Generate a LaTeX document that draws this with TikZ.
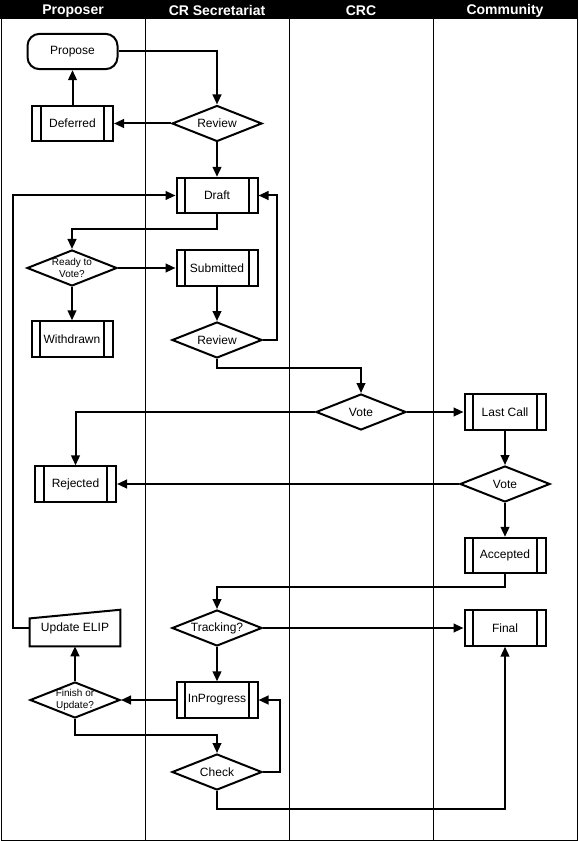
\documentclass[tikz,border=0pt]{standalone}
\usepackage{fontspec}
\setmainfont{Liberation Sans}
\usepackage{tikz}
\usetikzlibrary{arrows.meta, positioning, shapes.geometric, calc}

\begin{document}
\begin{tikzpicture}[
    x=0.75pt, y=-0.75pt,
    font=\fontsize{9}{10}\selectfont,
    lane/.style={line width=0.6pt},
    header/.style={text=white, font=\fontsize{10.5}{12}\selectfont\bfseries},
    block/.style={draw, line width=1.5pt, minimum width=60.75pt, minimum height=26.5pt, inner sep=1pt, align=center},
    process/.style={block, path picture={
        \draw[line width=1.5pt] ([xshift=6.5pt]path picture bounding box.north west) -- ([xshift=6.5pt]path picture bounding box.south west);
        \draw[line width=1.5pt] ([xshift=-6.5pt]path picture bounding box.north east) -- ([xshift=-6.5pt]path picture bounding box.south east);}},
    start/.style={block, rounded corners=9pt, minimum width=67.5pt},
    decision/.style={draw, line width=1.5pt, diamond, aspect=2.5, inner sep=0pt, minimum width=67.5pt, minimum height=27pt, align=center},
    small/.style={font=\fontsize{7.5}{8.5}\selectfont},
    arrow/.style={-{Triangle[length=7.5pt, width=6.5pt]}, line width=1.5pt}
]
\useasboundingbox (0,0) rectangle (578,841);

% Swimlanes
\fill[black] (0,0) rectangle (578,19);
\foreach \x in {145,289,433} \draw[lane] (\x,19) -- (\x,841);
\draw[lane] (1,1) rectangle (577,840);
\node[header] (hproposer) at (73,11) {Proposer};
\node[header] (hsecretariat) at (217,11) {CR Secretariat};
\node[header] (hcrc) at (361,11) {CRC};
\node[header] (hcommunity) at (505,11) {Community};

% Proposer lane
\node[start] (propose) at (72.5,51.5) {Propose};
\node[process] (deferred) at (72.5,123.5) {Deferred};
\node[decision, small] (ready) at (72,268) {Ready to\\Vote?};
\node[process] (withdrawn) at (72,339) {Withdrawn};
\node[process] (rejected) at (75.5,484) {Rejected};
\node[minimum width=67.5pt, minimum height=27pt, inner sep=0pt] (elip) at (75,628) {Update ELIP};
\draw[line width=1.5pt] (elip.south west) -- (elip.south east) -- (elip.north east) -- ([yshift=-6.5pt]elip.north west) -- cycle;
\node[decision, small] (finish) at (75,700) {Finish or\\Update?};

% Secretariat lane
\node[decision] (review) at (217,123.5) {Review};
\node[process] (draft) at (217,195.5) {Draft};
\node[process] (submitted) at (217,268) {Submitted};
\node[decision] (recheck) at (217,340) {Review};
\node[decision] (tracking) at (217,628) {Tracking?};
\node[process] (inprogress) at (217,700) {InProgress};
\node[decision] (check) at (217,772) {Check};

% CRC lane
\node[decision] (crcvote) at (361,412) {Vote};

% Community lane
\node[process] (lastcall) at (505,412) {Last Call};
\node[decision] (vote) at (505,484) {Vote};
\node[process] (accepted) at (505,555.5) {Accepted};
\node[process] (final) at (505,628) {Final};

% Arrows
\draw[arrow] (propose.east) -| (review.north);
\draw[arrow] (review.west) -- (deferred.east);
\draw[arrow] (deferred.north) -- (propose.south);
\draw[arrow] (review.south) -- (draft.north);
\draw[arrow] (draft.south) -- ++(0,15) -| (ready.north);
\draw[arrow] (ready.east) -- (submitted.west);
\draw[arrow] (ready.south) -- (withdrawn.north);
\draw[arrow] (submitted.south) -- (recheck.north);
\draw[arrow] (recheck.east) -- ++(14,0) |- (draft.east);
\draw[arrow] (recheck.south) -- ++(0,9) -| (crcvote.north);
\draw[arrow] (crcvote.east) -- (lastcall.west);
\draw[arrow] (crcvote.west) -| (rejected.north);
\draw[arrow] (lastcall.south) -- (vote.north);
\draw[arrow] (vote.west) -- (rejected.east);
\draw[arrow] (vote.south) -- (accepted.north);
\draw[arrow] (accepted.south) -- ++(0,13) -| (tracking.north);
\draw[arrow] (tracking.east) -- (final.west);
\draw[arrow] (tracking.south) -- (inprogress.north);
\draw[arrow] (inprogress.west) -- (finish.east);
\draw[arrow] (finish.north) -- (elip.south);
\draw[arrow] (elip.west) -- ++(-17,0) |- (draft.west);
\draw[arrow] (finish.south) -- ++(0,16) -| (check.north);
\draw[arrow] (check.east) -- ++(17,0) |- (inprogress.east);
\draw[arrow] (check.south) -- ++(0,18) -| (final.south);
\end{tikzpicture}
\end{document}
